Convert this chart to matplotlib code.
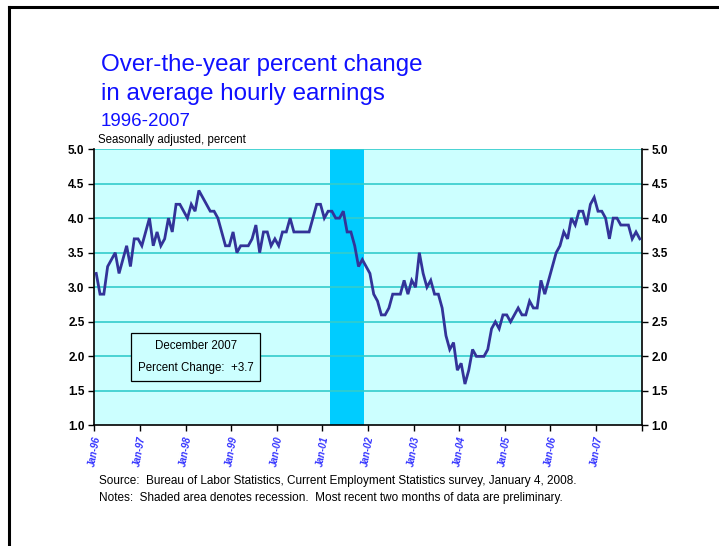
import matplotlib
matplotlib.use("Agg")
import matplotlib.pyplot as plt
from matplotlib.lines import Line2D
import numpy as np

# Monthly values, Jan-1996 .. Dec-2007
values = [
    3.2, 2.9, 2.9, 3.3, 3.4, 3.5, 3.2, 3.4, 3.6, 3.3, 3.7, 3.7,   # 1996
    3.6, 3.8, 4.0, 3.6, 3.8, 3.6, 3.7, 4.0, 3.8, 4.2, 4.2, 4.1,   # 1997
    4.0, 4.2, 4.1, 4.4, 4.3, 4.2, 4.1, 4.1, 4.0, 3.8, 3.6, 3.6,   # 1998
    3.8, 3.5, 3.6, 3.6, 3.6, 3.7, 3.9, 3.5, 3.8, 3.8, 3.6, 3.7,   # 1999
    3.6, 3.8, 3.8, 4.0, 3.8, 3.8, 3.8, 3.8, 3.8, 4.0, 4.2, 4.2,   # 2000
    4.0, 4.1, 4.1, 4.0, 4.0, 4.1, 3.8, 3.8, 3.6, 3.3, 3.4, 3.3,   # 2001
    3.2, 2.9, 2.8, 2.6, 2.6, 2.7, 2.9, 2.9, 2.9, 3.1, 2.9, 3.1,   # 2002
    3.0, 3.5, 3.2, 3.0, 3.1, 2.9, 2.9, 2.7, 2.3, 2.1, 2.2, 1.8,   # 2003
    1.9, 1.6, 1.8, 2.1, 2.0, 2.0, 2.0, 2.1, 2.4, 2.5, 2.4, 2.6,   # 2004
    2.6, 2.5, 2.6, 2.7, 2.6, 2.6, 2.8, 2.7, 2.7, 3.1, 2.9, 3.1,   # 2005
    3.3, 3.5, 3.6, 3.8, 3.7, 4.0, 3.9, 4.1, 4.1, 3.9, 4.2, 4.3,   # 2006
    4.1, 4.1, 4.0, 3.7, 4.0, 4.0, 3.9, 3.9, 3.9, 3.7, 3.8, 3.7,   # 2007
]
tick_labels = ["Jan-96", "Jan-97", "Jan-98", "Jan-99", "Jan-00", "Jan-01",
               "Jan-02", "Jan-03", "Jan-04", "Jan-05", "Jan-06", "Jan-07"]
recession_start = 62   # Mar-2001 (month index)
recession_end = 71     # end of Nov-2001
y_ticks = [1.0, 1.5, 2.0, 2.5, 3.0, 3.5, 4.0, 4.5, 5.0]

plt.rcParams['font.family'] = ['Liberation Sans', 'DejaVu Sans']

fig = plt.figure(figsize=(7.19, 5.46), dpi=100)
fig.patch.set_facecolor('white')

ax = fig.add_axes([0.1312, 0.2207, 0.7613, 0.5064])
ax.set_facecolor('#CCFFFF')

x = np.arange(len(values)) + 0.5
ax.axvspan(recession_start, recession_end, color='#00CCFF', zorder=1, lw=0)
for yv in y_ticks[1:]:
    ax.axhline(yv, color='#33CCCC', lw=1.2, zorder=2)
ax.plot(x, values, color='#333399', lw=2.0, zorder=4, solid_joinstyle='miter')

ax.set_xlim(0, len(values))
ax.set_ylim(1.0, 5.0)
ax.set_yticks(y_ticks)
ax.set_yticklabels([f"{v:.1f}" for v in y_ticks], fontsize=8.5, fontweight='bold')
ax.tick_params(axis='y', which='both', direction='out', length=4, width=1,
               left=True, right=True, labelleft=True, labelright=True, pad=3)
ax.set_xticks([12 * k for k in range(len(tick_labels))] + [len(values)])
ax.set_xticklabels(tick_labels + [""], rotation=80, fontsize=7, color='#3333FF',
                   fontweight='bold', style='italic', ha='center', va='top')
ax.tick_params(axis='x', direction='out', length=4, width=1, pad=3)

for s in ['left', 'bottom', 'right']:
    ax.spines[s].set_color('black')
    ax.spines[s].set_linewidth(1.2)
ax.spines['top'].set_visible(False)

# Title block
fig.text(101 / 719, 1 - 65 / 546, "Over-the-year percent change", color='#1010ff',
         fontsize=17.4, va='center', ha='left')
fig.text(101 / 719, 1 - 94 / 546, "in average hourly earnings", color='#1010ff',
         fontsize=17.4, va='center', ha='left')
fig.text(101 / 719, 1 - 121 / 546, "1996-2007", color='#1010ff',
         fontsize=13.5, va='center', ha='left')
fig.text(98 / 719, 1 - 140 / 546, "Seasonally adjusted, percent", color='black',
         fontsize=8.3, va='center', ha='left')

# Annotation box
ax.text(0.185, 0.248, "December 2007\n\nPercent Change:  +3.7", transform=ax.transAxes,
        fontsize=8.3, ha='center', va='center', linespacing=0.9,
        bbox=dict(boxstyle='square,pad=0.6', fc='#CCFFFF', ec='black', lw=0.9), zorder=5)

# Footer
fig.text(99 / 719, 1 - 481 / 546,
         "Source:  Bureau of Labor Statistics, Current Employment Statistics survey, January 4, 2008.",
         fontsize=8.5, va='center', ha='left')
fig.text(99 / 719, 1 - 498 / 546,
         "Notes:  Shaded area denotes recession.  Most recent two months of data are preliminary.",
         fontsize=8.5, va='center', ha='left')

# Slide frame lines
fig.add_artist(Line2D([9 / 719, 1.0], [1 - 7 / 546, 1 - 7 / 546], color='black', lw=2.2,
                      transform=fig.transFigure))
fig.add_artist(Line2D([9 / 719, 9 / 719], [0.0, 1 - 7 / 546], color='black', lw=2.2,
                      transform=fig.transFigure))

fig.savefig("out.png", dpi=100, facecolor='white')
